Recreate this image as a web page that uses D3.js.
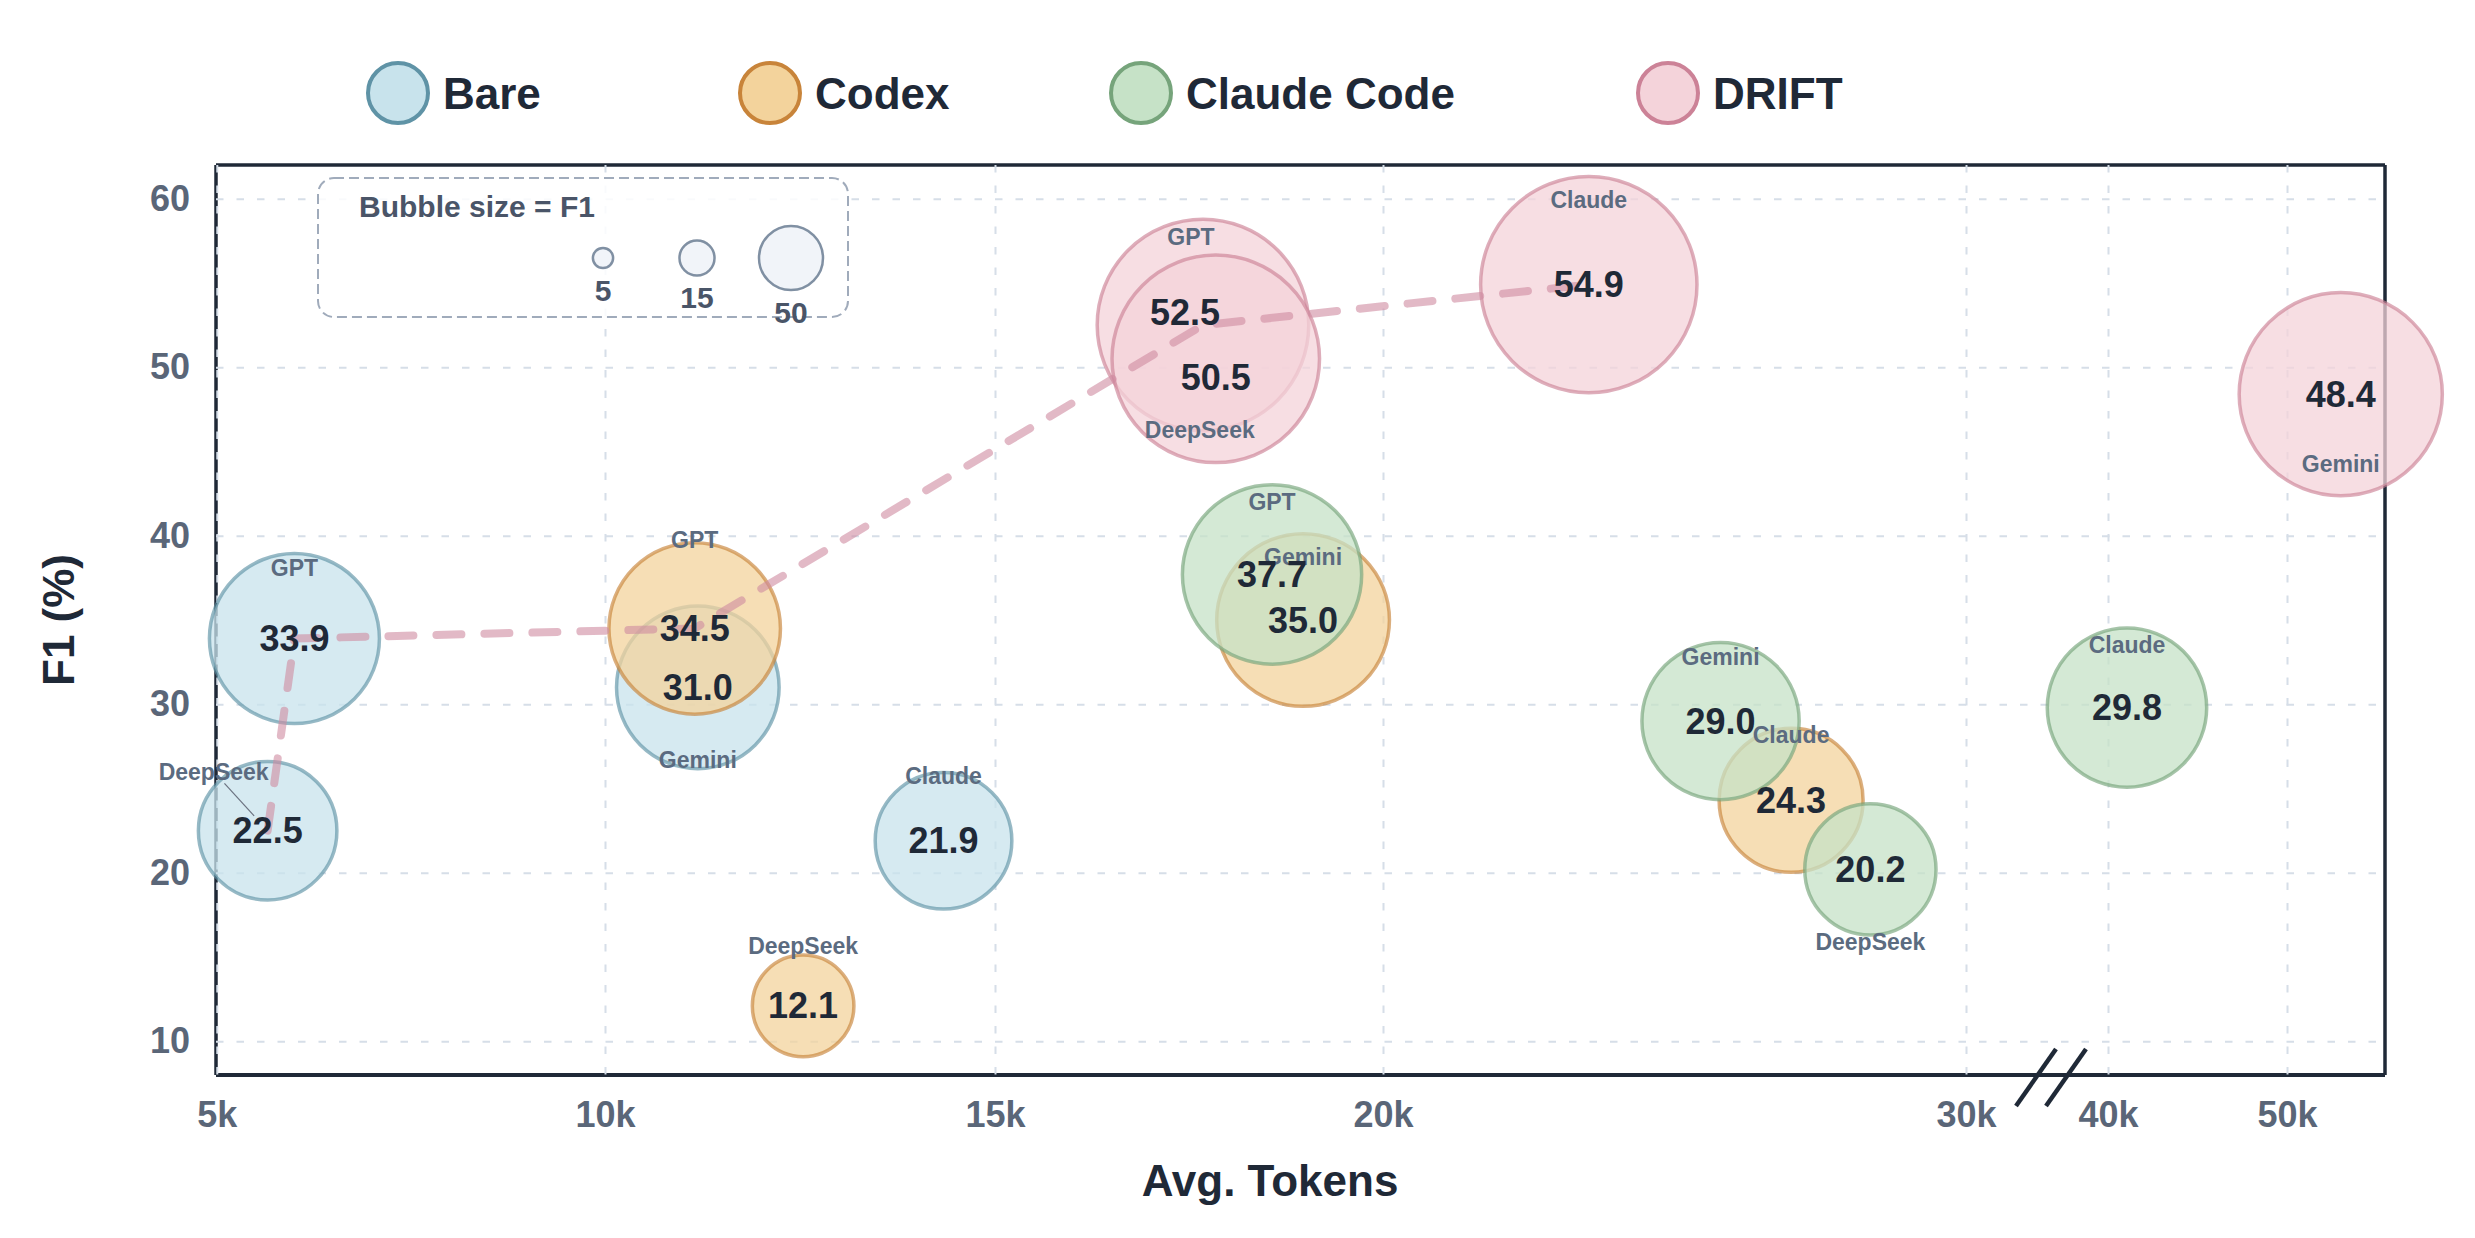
<!DOCTYPE html>
<html>
<head>
<meta charset="utf-8">
<script src="https://cdn.jsdelivr.net/npm/d3@7"></script>
<style>
    body { margin: 0; background: #fff; }
    svg text { font-family: "Liberation Sans", Arial, Helvetica, sans-serif; font-weight: bold; }
</style>
</head>
<body>
<script>
// ---- data ----
const series = ["Bare", "Codex", "Claude Code", "DRIFT"]
const models = ["GPT", "DeepSeek", "Gemini", "Claude"]

const bareTokens = [6000, 5655, 11190, 14340]
const bareF1 = [33.9, 22.5, 31.0, 21.9]

const codexTokens = [11150, 12540, 18970, 27000]
const codexF1 = [34.5, 12.1, 35.0, 24.3]

const claudeCodeTokens = [18570, 28360, 25790, 41060]
const claudeCodeF1 = [37.7, 20.2, 29.0, 29.8]

const driftTokens = [17680, 17845, 53000, 23530]
const driftF1 = [52.5, 50.5, 48.4, 54.9]

const xTicks = [5000, 10000, 15000, 20000, 30000, 40000, 50000]
const xTickLabels = ["5k", "10k", "15k", "20k", "30k", "40k", "50k"]
const yTicks = [10, 20, 30, 40, 50, 60]
const sizeLegendValues = [5, 15, 50]

// ---- layout ----
const WIDTH = 2475
const HEIGHT = 1238
const PLOT = { left: 216, right: 2385, top: 165, bottom: 1075 }

// broken x axis: piecewise linear between the tick anchors
const X_STOPS = [216, 605, 995, 1383, 1966, 2108, 2287, 2385]
const X_VALUES = [4990, 10000, 15000, 20000, 30000, 40000, 50000, 55470]

const COLORS = {
    "Bare": { fill: "#c8e3ec", stroke: "#5f93a6" },
    "Codex": { fill: "#f3d39c", stroke: "#c8843a" },
    "Claude Code": { fill: "#c6e2c7", stroke: "#76a47b" },
    "DRIFT": { fill: "#f4d3da", stroke: "#cc8297" }
}
const LEGEND_X = [398, 770, 1141, 1668]

// label placement (pixel offsets from bubble centre)
const LABEL_OFFSET = {
    "Bare|GPT": [0, -71], "Bare|DeepSeek": [-54, -59], "Bare|Gemini": [0, 73], "Bare|Claude": [0, -65],
    "Codex|GPT": [0, -88], "Codex|DeepSeek": [0, -60], "Codex|Gemini": [0, -63], "Codex|Claude": [0, -65],
    "Claude Code|GPT": [0, -73], "Claude Code|DeepSeek": [0, 73], "Claude Code|Gemini": [0, -64], "Claude Code|Claude": [0, -63],
    "DRIFT|GPT": [-12, -88], "DRIFT|DeepSeek": [-16, 71], "DRIFT|Gemini": [0, 70], "DRIFT|Claude": [0, -85]
}
const VALUE_OFFSET = { "DRIFT|GPT": [-18, -13], "DRIFT|DeepSeek": [0, 19] }
const LEADERS = ["Bare|DeepSeek"]

const tokenArrays = [bareTokens, codexTokens, claudeCodeTokens, driftTokens]
const f1Arrays = [bareF1, codexF1, claudeCodeF1, driftF1]

const points = []
series.forEach((s, si) => {
    models.forEach((m, mi) => {
        points.push({ series: s, model: m, tokens: tokenArrays[si][mi], f1: f1Arrays[si][mi], key: s + "|" + m })
    })
})

// pareto frontier: best F1 so far with growing token cost
const frontier = []
let best = -Infinity
points.slice().sort((a, b) => a.tokens - b.tokens).forEach(p => {
    if (p.f1 > best) { frontier.push(p); best = p.f1 }
})

const xScale = d3.scaleLinear().domain(X_VALUES).range(X_STOPS)
const yScale = d3.scaleLinear().domain([8, 62]).range([PLOT.bottom, PLOT.top])
const rScale = d3.scaleSqrt().domain([0, 100]).range([0, 146])
const rLegend = d3.scaleSqrt().domain([0, 50]).range([0, 32])

const svg = d3.select("body")
    .append("svg")
    .attr("width", WIDTH)
    .attr("height", HEIGHT)

// spines
const spines = svg.append("g").attr("stroke", "#1f2937")
spines.append("line").attr("x1", PLOT.left).attr("x2", PLOT.right).attr("y1", PLOT.top).attr("y2", PLOT.top).attr("stroke-width", 3.5)
spines.append("line").attr("x1", PLOT.left).attr("x2", PLOT.right).attr("y1", PLOT.bottom).attr("y2", PLOT.bottom).attr("stroke-width", 4)
spines.append("line").attr("x1", PLOT.right).attr("x2", PLOT.right).attr("y1", PLOT.top).attr("y2", PLOT.bottom).attr("stroke-width", 3.5)
spines.append("line").attr("x1", PLOT.left).attr("x2", PLOT.left).attr("y1", PLOT.top).attr("y2", PLOT.bottom).attr("stroke-width", 3.5)

// grid
svg.append("g")
    .attr("transform", "translate(0," + PLOT.top + ")")
    .call(d3.axisTop(xScale).tickValues(xTicks).tickSize(-(PLOT.bottom - PLOT.top)).tickFormat(""))
    .call(g => g.select(".domain").remove())
    .selectAll("line")
    .attr("stroke", "#d6dee8")
    .attr("stroke-width", 2)
    .attr("stroke-dasharray", "7.5,13")

svg.append("g")
    .attr("transform", "translate(" + PLOT.left + ",0)")
    .call(d3.axisLeft(yScale).tickValues(yTicks).tickSize(-(PLOT.right - PLOT.left)).tickFormat(""))
    .call(g => g.select(".domain").remove())
    .selectAll("line")
    .attr("stroke", "#d6dee8")
    .attr("stroke-width", 2)
    .attr("stroke-dasharray", "7.5,13")

// tick labels
svg.append("g")
    .attr("class", "axis")
    .attr("transform", "translate(0," + PLOT.bottom + ")")
    .call(d3.axisBottom(xScale).tickValues(xTicks).tickSize(0).tickPadding(26).tickFormat((d, i) => xTickLabels[i]))
    .call(g => g.select(".domain").remove())

svg.append("g")
    .attr("class", "axis")
    .attr("transform", "translate(" + PLOT.left + ",0)")
    .call(d3.axisLeft(yScale).tickValues(yTicks).tickSize(0).tickPadding(26))
    .call(g => g.select(".domain").remove())

svg.selectAll(".axis text")
    .attr("font-family", null)
    .attr("font-size", 36)
    .attr("fill", "#5a6678")

// axis break marks between 30k and 40k
const breakX = (xScale(30000) + xScale(40000)) / 2 + 14
svg.append("g")
    .selectAll("line")
    .data([-15, 15])
    .enter()
    .append("line")
    .attr("x1", d => breakX + d + 20)
    .attr("y1", PLOT.bottom - 26)
    .attr("x2", d => breakX + d - 20)
    .attr("y2", PLOT.bottom + 31)
    .attr("stroke", "#1f2937")
    .attr("stroke-width", 4.5)

// axis titles
svg.append("text")
    .attr("x", 1270)
    .attr("y", 1180)
    .attr("text-anchor", "middle")
    .attr("dominant-baseline", "central")
    .attr("font-size", 44)
    .attr("fill", "#1f2937")
    .text("Avg. Tokens")

svg.append("text")
    .attr("transform", "translate(58," + ((PLOT.top + PLOT.bottom) / 2) + ") rotate(-90)")
    .attr("text-anchor", "middle")
    .attr("dominant-baseline", "central")
    .attr("font-size", 44)
    .attr("fill", "#1f2937")
    .text("F1 (%)")

// bubbles
svg.append("g")
    .selectAll("circle")
    .data(points)
    .enter()
    .append("circle")
    .attr("cx", d => xScale(d.tokens))
    .attr("cy", d => yScale(d.f1))
    .attr("r", d => rScale(d.f1))
    .attr("fill", d => COLORS[d.series].fill)
    .attr("fill-opacity", 0.75)
    .attr("stroke", d => COLORS[d.series].stroke)
    .attr("stroke-opacity", 0.65)
    .attr("stroke-width", 3.5)

// pareto frontier
svg.append("path")
    .datum(frontier)
    .attr("d", d3.line().x(d => xScale(d.tokens)).y(d => yScale(d.f1)))
    .attr("fill", "none")
    .attr("stroke", "#cf8aa0")
    .attr("stroke-opacity", 0.6)
    .attr("stroke-width", 8)
    .attr("stroke-linecap", "round")
    .attr("stroke-dasharray", "25,23")

// leader lines
svg.append("g")
    .selectAll("line")
    .data(points.filter(p => LEADERS.includes(p.key)))
    .enter()
    .append("line")
    .attr("x1", d => xScale(d.tokens) + LABEL_OFFSET[d.key][0] * 0.8)
    .attr("y1", d => yScale(d.f1) + LABEL_OFFSET[d.key][1] * 0.8)
    .attr("x2", d => xScale(d.tokens) + LABEL_OFFSET[d.key][0] * 0.25)
    .attr("y2", d => yScale(d.f1) + LABEL_OFFSET[d.key][1] * 0.25)
    .attr("stroke", "#6b7280")
    .attr("stroke-width", 1.2)

// model labels
svg.append("g")
    .selectAll("text")
    .data(points)
    .enter()
    .append("text")
    .attr("x", d => xScale(d.tokens) + LABEL_OFFSET[d.key][0])
    .attr("y", d => yScale(d.f1) + LABEL_OFFSET[d.key][1])
    .attr("text-anchor", "middle")
    .attr("dominant-baseline", "central")
    .attr("font-size", 23)
    .attr("fill", "#5b6b80")
    .text(d => d.model)

// value labels
svg.append("g")
    .selectAll("text")
    .data(points)
    .enter()
    .append("text")
    .attr("x", d => xScale(d.tokens) + (VALUE_OFFSET[d.key] || [0, 0])[0])
    .attr("y", d => yScale(d.f1) + (VALUE_OFFSET[d.key] || [0, 0])[1])
    .attr("text-anchor", "middle")
    .attr("dominant-baseline", "central")
    .attr("font-size", 36)
    .attr("fill", "#1f2937")
    .text(d => d.f1.toFixed(1))

// size legend
const sizeBox = svg.append("g")
sizeBox.append("rect")
    .attr("x", 318)
    .attr("y", 178)
    .attr("width", 530)
    .attr("height", 139)
    .attr("rx", 16)
    .attr("fill", "#fff")
    .attr("fill-opacity", 0.85)
    .attr("stroke", "#a0abbb")
    .attr("stroke-width", 2)
    .attr("stroke-dasharray", "10,5")

sizeBox.append("text")
    .attr("x", 359)
    .attr("y", 206)
    .attr("dominant-baseline", "central")
    .attr("font-size", 30)
    .attr("fill", "#4a5568")
    .text("Bubble size = F1")

const sizeX = d3.scalePoint().domain(sizeLegendValues).range([603, 791])
sizeBox.selectAll("circle")
    .data(sizeLegendValues)
    .enter()
    .append("circle")
    .attr("cx", d => sizeX(d))
    .attr("cy", 258)
    .attr("r", d => rLegend(d))
    .attr("fill", "#f1f4f9")
    .attr("stroke", "#8090a3")
    .attr("stroke-width", 2.5)

sizeBox.selectAll(".size-label")
    .data(sizeLegendValues)
    .enter()
    .append("text")
    .attr("class", "size-label")
    .attr("x", d => sizeX(d))
    .attr("y", d => 258 + rLegend(d) + 22)
    .attr("text-anchor", "middle")
    .attr("dominant-baseline", "central")
    .attr("font-size", 30)
    .attr("fill", "#4a5568")
    .text(d => d)

// series legend
const legend = svg.append("g")
    .selectAll("g")
    .data(series)
    .enter()
    .append("g")
    .attr("transform", (d, i) => "translate(" + LEGEND_X[i] + ",93)")

legend.append("circle")
    .attr("r", 30)
    .attr("fill", d => COLORS[d].fill)
    .attr("stroke", d => COLORS[d].stroke)
    .attr("stroke-width", 4)

legend.append("text")
    .attr("x", 45)
    .attr("dominant-baseline", "central")
    .attr("font-size", 44)
    .attr("fill", "#1f2937")
    .text(d => d)
</script>
</body>
</html>
